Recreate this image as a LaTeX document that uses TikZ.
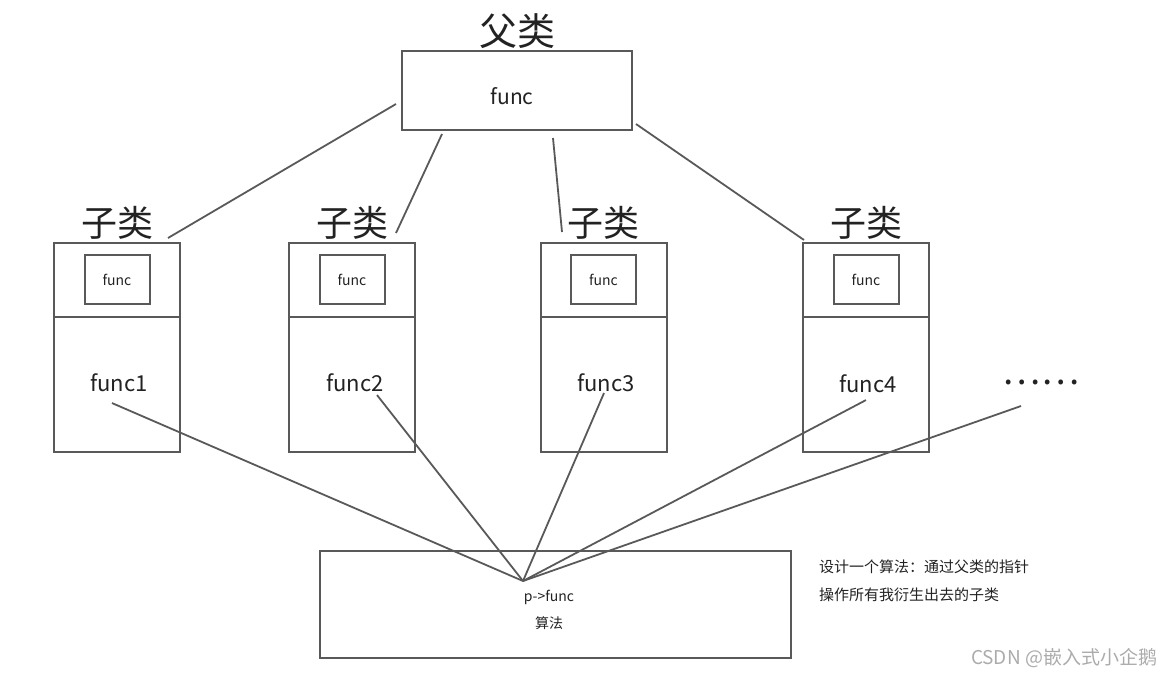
\documentclass[tikz,border=0pt]{standalone}
\usepackage{fontspec}
\setmainfont{Noto Sans CJK SC}
\usepackage{tikz}
\usetikzlibrary{positioning}
\definecolor{linegray}{HTML}{595959}
\definecolor{txtgray}{HTML}{222222}
\definecolor{markgray}{HTML}{ABABAB}

\begin{document}
\begin{tikzpicture}[x=1pt,y=-1pt,
  every node/.style={text=txtgray,inner sep=0pt,outer sep=0pt},
  box/.style={draw=linegray,line width=2pt,minimum width=126pt,minimum height=209pt},
  inbox/.style={draw=linegray,line width=2pt,minimum width=65pt,minimum height=49pt,
    font=\fontsize{14}{16}\selectfont},
  conn/.style={draw=linegray,line width=1.8pt},
  title/.style={font=\fontsize{36}{40}\selectfont},
  fname/.style={font=\fontsize{22}{26}\selectfont},
  small/.style={font=\fontsize{14}{16}\selectfont}]
\useasboundingbox (0,0) rectangle (1172,678);
\node[box,minimum width=230pt,minimum height=79pt] (parent) at (517,90.5) {};
\node[font=\fontsize{21}{24}\selectfont] (pfunc) at (512,96) {func};
\node[title,font=\fontsize{38}{42}\selectfont,above=2pt of parent] (ptitle) {父类};
\node[box] (c1) at (117,347.5) {};
\node[box] (c2) at (352,347.5) {};
\node[box] (c3) at (603.5,347.5) {};
\node[box] (c4) at (866,347.5) {};
\node[title,above=4pt of c1] (t1) {子类};
\node[title,above=4pt of c2] (t2) {子类};
\node[title,above=4pt of c3] (t3) {子类};
\node[title,above=4pt of c4] (t4) {子类};
\node[inbox,below=12pt of c1.north] (i1) {func};
\node[inbox,below=12pt of c2.north] (i2) {func};
\node[inbox,below=12pt of c3.north] (i3) {func};
\node[inbox,below=12pt of c4.north] (i4) {func};
\draw[conn] (c1.west |- 0,317) -- (c1.east |- 0,317);
\draw[conn] (c2.west |- 0,317) -- (c2.east |- 0,317);
\draw[conn] (c3.west |- 0,317) -- (c3.east |- 0,317);
\draw[conn] (c4.west |- 0,317) -- (c4.east |- 0,317);
\node[fname] (f1) at (119,383) {func1};
\node[fname] (f2) at (355,383) {func2};
\node[fname] (f3) at (606,383) {func3};
\node[fname] (f4) at (868,384) {func4};
\node[font=\fontsize{36}{40}\selectfont] (dots) at (1041,382) {……};
\node[box,minimum width=471pt,minimum height=107pt] (algo) at (555.5,604.5) {};
\node[small] (pf) at (549,597) {p->func};
\node[small] (alg) at (549,623) {算法};
\coordinate (hub) at (523,581);
\node[anchor=west,align=left,font=\fontsize{15}{28}\selectfont] (note) at (819,581)
  {设计一个算法：通过父类的指针\\操作所有我衍生出去的子类};
\node[anchor=east,text=markgray,font=\fontsize{19}{22}\selectfont] (mark) at (1157,658)
  {CSDN @嵌入式小企鹅};
\draw[conn] ([shift={(-6,13.5)}]parent.west) -- ([shift={(51,-5)}]c1.north);
\draw[conn] ([shift={(-75,4)}]parent.south) -- ([shift={(44,-10)}]c2.north);
\draw[conn] ([shift={(36,8)}]parent.south) -- ([shift={(-41.5,-11)}]c3.north);
\draw[conn] ([shift={(4,33.5)}]parent.east) -- ([shift={(1,-3)}]c4.north west);
\draw[conn] ([shift={(-7,11)}]f1.south) -- (hub);
\draw[conn] ([shift={(22,3)}]f2.south) -- (hub);
\draw[conn] ([shift={(-2,1)}]f3.south) -- (hub);
\draw[conn] ([shift={(-2,7)}]f4.south) -- (hub);
\draw[conn] ([shift={(-20,24)}]dots.center) -- (hub);
\end{tikzpicture}
\end{document}
